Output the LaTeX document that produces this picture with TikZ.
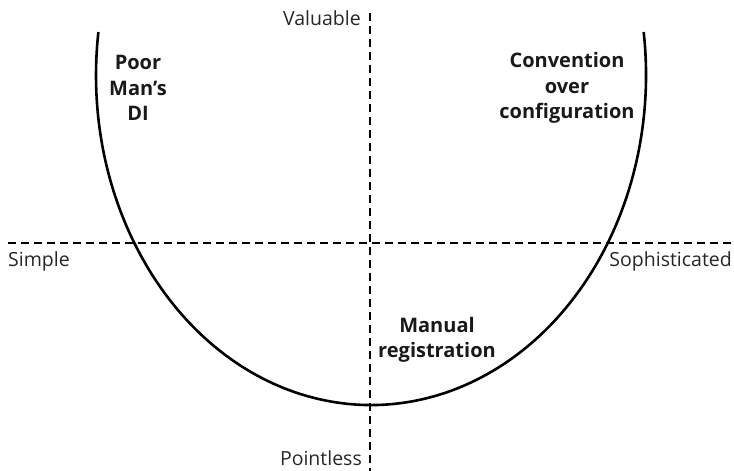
\documentclass[tikz,border=0pt]{standalone}
\usepackage{fontspec}
\setmainfont{Open Sans}
\usetikzlibrary{positioning}

\begin{document}
\begin{tikzpicture}[
  x=1pt, y=-1pt,
  axis/.style={line width=2.8pt, dash pattern=on 8pt off 5pt},
  curve/.style={line width=2.6pt},
  axislabel/.style={inner sep=0pt, font=\fontsize{19.5}{22}\selectfont, text=black!85},
  quadtext/.style={inner sep=0pt, align=center, font=\fontsize{20}{25.5}\selectfont\bfseries, text=black!90}
]
\useasboundingbox (0,0) rectangle (734,471);

\coordinate (top) at (370,13);
\coordinate (bottom) at (370,471);
\coordinate (left) at (8,243);
\coordinate (right) at (734,243);

\draw[axis] (top) -- (bottom);
\draw[axis] (left) -- (right);

\draw[curve] (98.4,32) arc[start angle=187.5, end angle=-7.5, x radius=275, y radius=330];

\node[axislabel, anchor=east] (valuable) at (361,18) {Valuable};
\node[axislabel, anchor=east] (pointless) at (362,458) {Pointless};
\node[axislabel, anchor=west] (simple) at (8,261) {Simple};
\node[axislabel, anchor=east] (sophisticated) at (732,261) {Sophisticated};

\node[quadtext] (poorman) at (138,88) {Poor\\Man’s\\DI};
\node[quadtext] (convention) at (567,88) {Convention\\over\\configuration};
\node[quadtext] (manual) at (437,340) {Manual\\registration};
\end{tikzpicture}
\end{document}
